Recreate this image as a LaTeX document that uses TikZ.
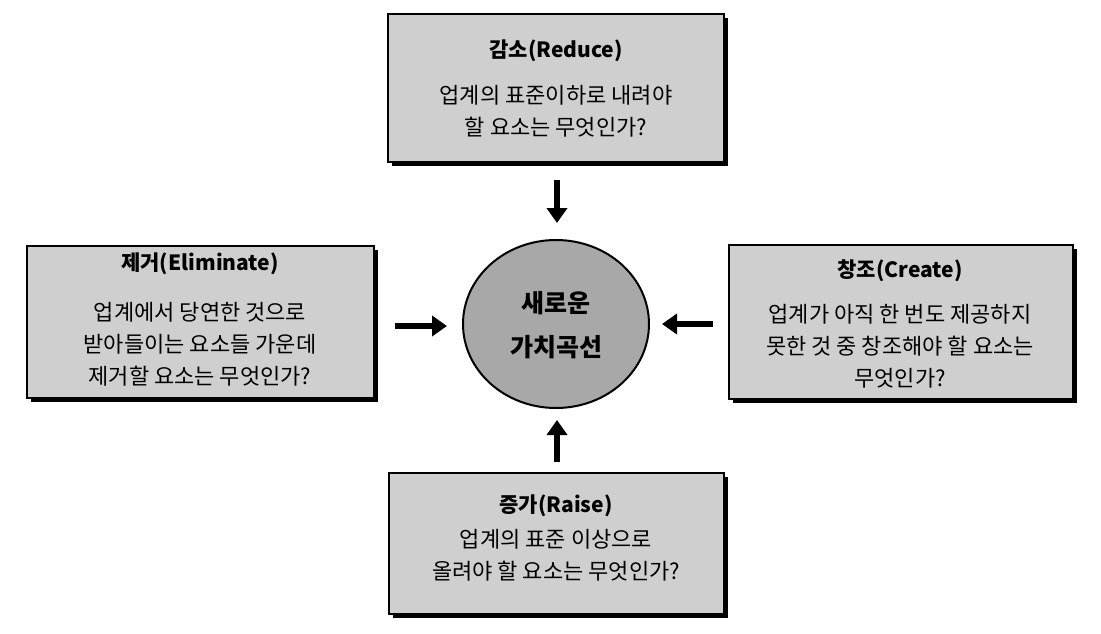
\documentclass[tikz,border=0pt]{standalone}
\usepackage{fontspec}
\setmainfont{Noto Sans CJK KR}
\usetikzlibrary{shapes.geometric,arrows.meta,shadows}
\tikzset{
  box/.style={draw=black, line width=1.6pt, fill=gray!38, inner sep=0pt,
    drop shadow={opacity=1, fill=black, shadow xshift=4pt, shadow yshift=-4pt}},
  ttl/.style={font=\fontsize{21}{24}\selectfont\bfseries, inner sep=0pt},
  body/.style={font=\fontsize{22}{32}\selectfont, align=center, inner sep=0pt},
  arr/.style={line width=6pt, -{Triangle[length=15pt,width=20pt]}},
  hub/.style={ellipse, draw=black, line width=2pt, fill=gray!68, inner sep=0pt,
    minimum width=186pt, minimum height=168pt}
}
\begin{document}
\begin{tikzpicture}[x=1pt,y=-1pt]
\useasboundingbox (0,0) rectangle (1101,633);
% boxes
\node[box, minimum width=336pt, minimum height=148pt] (rb) at (556,88) {};
\node[box, minimum width=347pt, minimum height=152pt] (eb) at (200.5,322) {};
\node[box, minimum width=344pt, minimum height=154pt] (cb) at (901,322) {};
\node[box, minimum width=335pt, minimum height=141pt] (ub) at (556.5,543.5) {};
\node[hub] (hub) at (556,324) {};
% texts
\node[ttl] (rt) at (556,51) {감소(Reduce)};
\node[body, anchor=north] (rx) at (556,85) {업계의 표준이하로 내려야\\할 요소는 무엇인가?};
\node[ttl] (et) at (200,264) {제거(Eliminate)};
\node[body, anchor=north] (ex) at (200,302) {업계에서 당연한 것으로\\받아들이는 요소들 가운데\\제거할 요소는 무엇인가?};
\node[ttl] (ct) at (900,271) {창조(Create)};
\node[body, anchor=north] (cx) at (900,304) {업계가 아직 한 번도 제공하지\\못한 것 중 창조해야 할 요소는\\무엇인가?};
\node[ttl] (ut) at (556,506) {증가(Raise)};
\node[body, anchor=north] (ux) at (556,529) {업계의 표준 이상으로\\올려야 할 요소는 무엇인가?};
\node[font=\fontsize{25}{44}\selectfont\bfseries, align=center, inner sep=0pt] (hx) at (556,325) {새로운\\가치곡선};
% arrows
\coordinate (t1) at (557,180); \coordinate (t2) at (557,223);
\draw[arr] (t1) -- (t2);
\coordinate (l1) at (395,326); \coordinate (l2) at (447,326);
\draw[arr] (l1) -- (l2);
\coordinate (r1) at (713,324); \coordinate (r2) at (662,324);
\draw[arr] (r1) -- (r2);
\coordinate (b1) at (557,462); \coordinate (b2) at (557,420);
\draw[arr] (b1) -- (b2);
\end{tikzpicture}
\end{document}
